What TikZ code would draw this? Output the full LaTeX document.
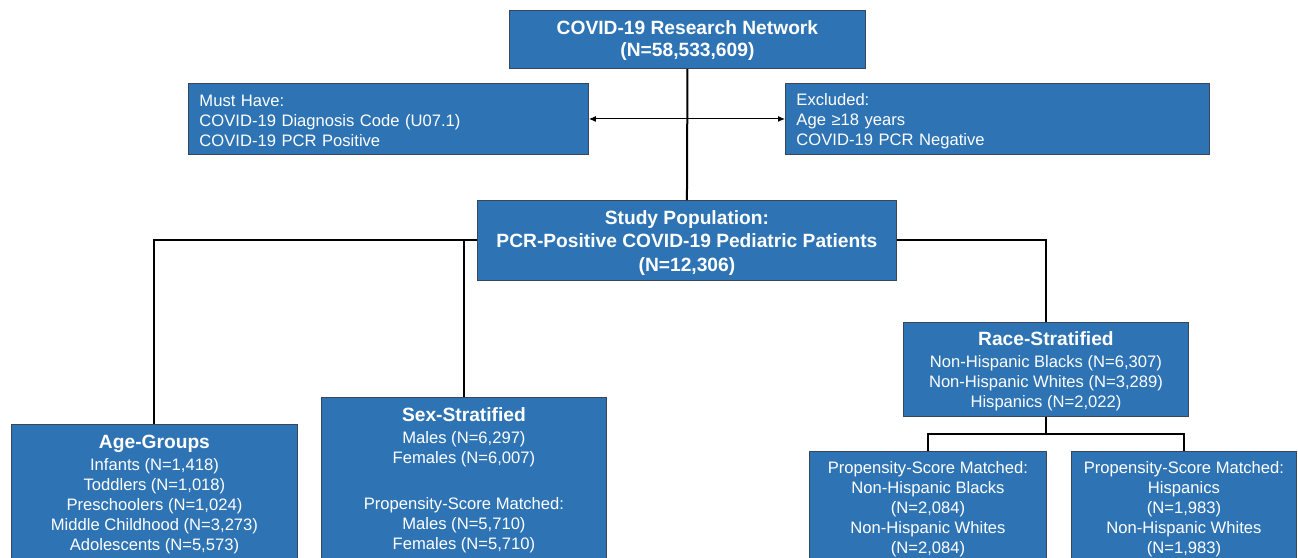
\documentclass[tikz,border=0pt]{standalone}
\usepackage{fontspec}
\setmainfont{Liberation Sans}
\usetikzlibrary{arrows.meta,calc}
\definecolor{boxblue}{RGB}{46,116,181}
\definecolor{boxedge}{RGB}{55,70,90}
\newcommand\myReg{\fontsize{16.6}{20}\selectfont}
\newcommand\myTitle{\fontsize{19.2}{22}\selectfont\bfseries}
% invisible struts that push a centred text block down a little
\newcommand\padReg{\rule{0pt}{16pt}}
\newcommand\padTtl{\rule{0pt}{18pt}}
\tikzset{
  box/.style={draw=boxedge, line width=0.9pt, fill=boxblue, text=white,
    align=center, inner sep=0pt, anchor=north west, font=\myReg},
  leftbox/.style={box, align=left, inner xsep=11pt},
  conn/.style={draw=black, line width=2pt},
  arr/.style={draw=black, line width=1pt, {Latex[length=7pt,width=6pt]}-{Latex[length=7pt,width=6pt]}},
}
\begin{document}
\begin{tikzpicture}[x=1pt,y=-1pt]
\path[use as bounding box] (0,0) rectangle (1298,557);
\clip (0,0) rectangle (1298,557);
\fill[white] (0,0) rectangle (1298,557);

\node[box, minimum width=356, minimum height=58, font=\myTitle] (top) at (509,10)
  {\rule{0pt}{16pt}COVID-19 Research Network\\(N=58,533,609)};
\node[leftbox, minimum width=400, minimum height=71, text width=378] (must) at (188,83)
  {\padReg Must Have:\\COVID-19 Diagnosis Code (U07.1)\\COVID-19 PCR Positive};
\node[leftbox, minimum width=424, minimum height=71, text width=402] (excl) at (785,83)
  {\padReg Excluded:\\Age ≥18 years\\COVID-19 PCR Negative};
\node[box, minimum width=419, minimum height=80, font=\fontsize{19.2}{23.5}\selectfont\bfseries] (study) at (477,200)
  {\rule{0pt}{19pt}Study Population:\\PCR-Positive COVID-19 Pediatric Patients\\(N=12,306)};
\node[box, minimum width=286, minimum height=135] (age) at (11,424)
  {{\myTitle\padTtl Age-Groups}\\[2pt]Infants (N=1,418)\\Toddlers (N=1,018)\\Preschoolers (N=1,024)\\Middle Childhood (N=3,273)\\Adolescents (N=5,573)};
\node[box, minimum width=285, minimum height=162] (sex) at (321,397)
  {{\myTitle\padTtl Sex-Stratified}\\[2pt]Males (N=6,297)\\Females (N=6,007)\\[26pt]Propensity-Score Matched:\\Males (N=5,710)\\Females (N=5,710)};
\node[box, minimum width=285, minimum height=94] (race) at (903,322)
  {{\myTitle\padTtl Race-Stratified}\\[1.5pt]Non-Hispanic Blacks (N=6,307)\\Non-Hispanic Whites (N=3,289)\\Hispanics (N=2,022)};
\node[box, minimum width=237, minimum height=112] (psmb) at (809,451)
  {\padReg Propensity-Score Matched:\\Non-Hispanic Blacks\\(N=2,084)\\Non-Hispanic Whites\\(N=2,084)};
\node[box, minimum width=225, minimum height=112] (psmh) at (1071,451)
  {\padReg Propensity-Score Matched:\\Hispanics\\(N=1,983)\\Non-Hispanic Whites\\(N=1,983)};

\coordinate (split) at ($(race.south)+(0,17)$);

\draw[conn] (top.south) -- (study.north);
\draw[arr] (must.east) -- (excl.west);
\draw[conn] (study.west) -| (age.north);
\draw[conn] (sex.north) -- (sex.north |- study.west);
\draw[conn] (study.east) -| (race.north);
\draw[conn] (race.south) -- (split);
\draw[conn] (split) -| (psmb.north);
\draw[conn] (split) -| (psmh.north);
\end{tikzpicture}
\end{document}
